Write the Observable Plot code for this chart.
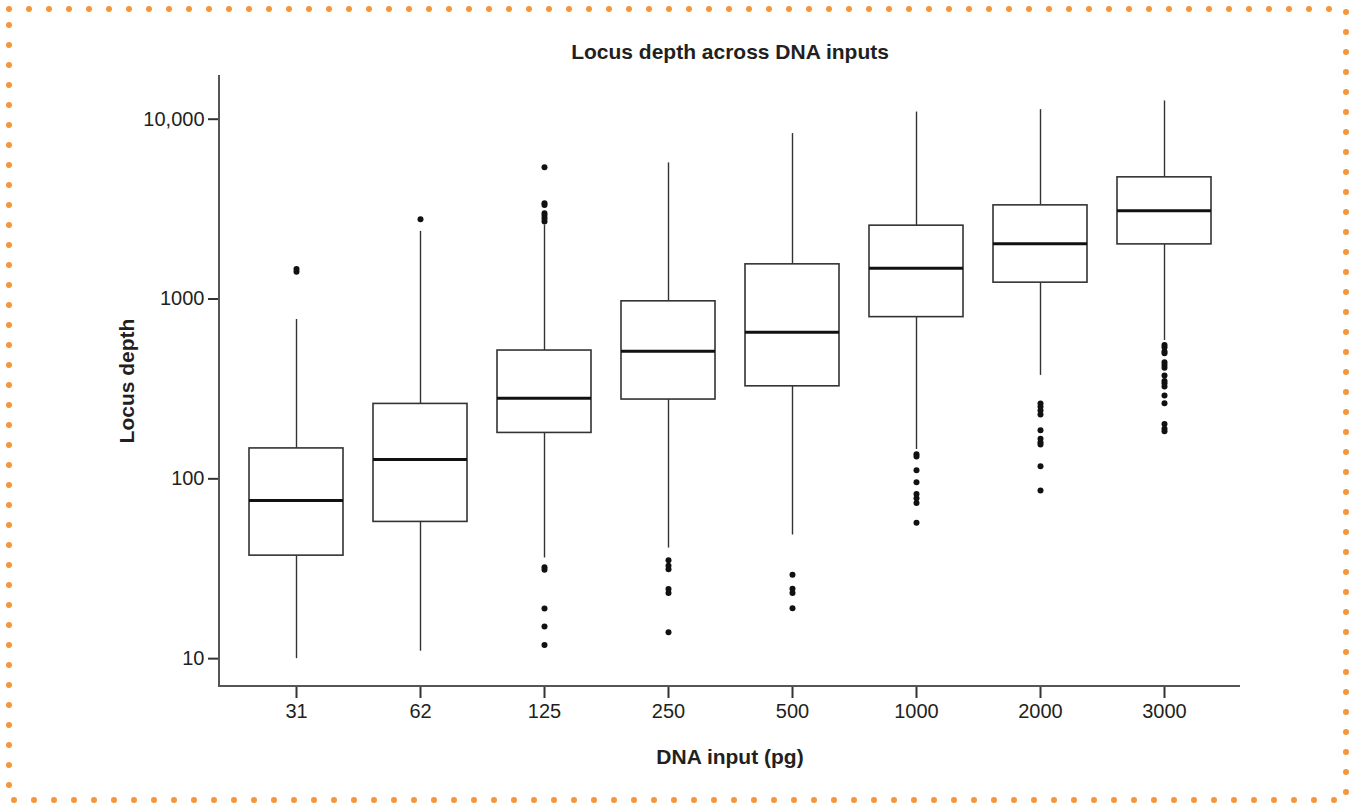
<!DOCTYPE html>
<html><head><meta charset="utf-8">
<script src="https://cdn.jsdelivr.net/npm/d3@7"></script>
<script src="https://cdn.jsdelivr.net/npm/@observablehq/plot@0.6"></script>
<style>
body{margin:0;background:#fff;}
#wrap{position:relative;width:1355px;height:803px;overflow:hidden;}
#wrap svg{position:absolute;left:0;top:0;}
</style></head><body><div id="wrap"></div>
<script>
// ---- data ----
const inputs = ["31","62","125","250","500","1000","2000","3000"];
const whiskerLow  = [10, 11.0, 36.3, 41.2, 48.7, 145.6, 376, 588];
const q1          = [37.4, 57.6, 180, 276, 327, 793, 1233, 2013];
const median      = [75.7, 128, 281, 513, 654, 1484, 2031, 3100];
const q3          = [147.6, 261, 517, 971, 1559, 2558, 3318, 4750];
const whiskerHigh = [769, 2377, 2577, 5715, 8320, 10960, 11300, 12630];
const out31   = [1420, 1470];
const out62   = [2773];
const out125  = [5410, 3404, 3330, 3000, 2900, 2800, 2700, 32.2, 31.2, 19.0, 15.1, 11.9];
const out250  = [35.2, 32.9, 31.4, 24.4, 23.2, 14.0];
const out500  = [29.3, 24.5, 23.2, 19.05];
const out1000 = [137, 133, 111.7, 95.7, 82.4, 78, 73.4, 56.9];
const out2000 = [262, 252, 240, 228, 186, 167, 160, 155, 117.5, 86.1];
const out3000 = [555, 540, 510, 500, 445, 430, 415, 376, 350, 340, 326, 291, 263, 202, 190, 184];
const yTicks = [10, 100, 1000, 10000];
const yTickLabels = ["10", "100", "1000", "10,000"];
const title = "Locus depth across DNA inputs";
const xLabel = "DNA input (pg)";
const yLabel = "Locus depth";

// ---- tables ----
const stats = inputs.map((k, i) => ({input: k, lo: whiskerLow[i], q1: q1[i], med: median[i], q3: q3[i], hi: whiskerHigh[i]}));
const outLists = [out31, out62, out125, out250, out500, out1000, out2000, out3000];
const pts = outLists.flatMap((arr, i) => arr.map(v => ({input: inputs[i], value: v})));

const W = 1355, H = 803, mL = 219, mR = 115, mT = 75, mB = 117;
const font = "'Liberation Sans', Arial, Helvetica, sans-serif";
const tf = d => yTickLabels[yTicks.indexOf(d)];

const chart = Plot.plot({
  width: W, height: H,
  marginLeft: mL, marginRight: mR, marginTop: mT, marginBottom: mB,
  style: {fontFamily: font, fontSize: "20px", color: "#231f20", background: "transparent"},
  x: {type: "band", domain: inputs, paddingInner: 0.244, paddingOuter: 0.229, label: null},
  y: {type: "log", domain: [7, 17500], label: null},
  marks: [
    Plot.ruleX(stats, {x: "input", y1: "lo", y2: "q1", stroke: "#333", strokeWidth: 1.4}),
    Plot.ruleX(stats, {x: "input", y1: "q3", y2: "hi", stroke: "#333", strokeWidth: 1.4}),
    Plot.barY(stats, {x: "input", y1: "q1", y2: "q3", fill: "white", stroke: "#333", strokeWidth: 1.6}),
    Plot.tickY(stats, {x: "input", y: "med", stroke: "#111", strokeWidth: 3}),
    Plot.dot(pts, {x: "input", y: "value", r: 3, fill: "#111", stroke: "none"}),
    Plot.axisX({tickSize: 12, tickPadding: 5, strokeWidth: 2, stroke: "#333", fontSize: 20, label: null}),
    Plot.axisY({ticks: yTicks, tickFormat: tf, tickSize: 11, tickPadding: 4, strokeWidth: 2, stroke: "#333", fontSize: 20, label: null}),
    Plot.text([title], {text: d => d, frameAnchor: "top", dy: -23, lineAnchor: "middle", textAnchor: "middle", fontWeight: "bold", fontSize: 21, fill: "#231f20"}),
    Plot.text([xLabel], {text: d => d, frameAnchor: "bottom", dy: 71, lineAnchor: "middle", textAnchor: "middle", fontWeight: "bold", fontSize: 21, fill: "#231f20"}),
    Plot.text([yLabel], {text: d => d, frameAnchor: "left", dx: -92, rotate: -90, lineAnchor: "middle", textAnchor: "middle", fontWeight: "bold", fontSize: 21, fill: "#231f20"})
  ]
});

// axis lines
const svg = d3.select(chart);
svg.append("line").attr("x1", mL).attr("x2", mL).attr("y1", mT).attr("y2", H - mB)
  .attr("stroke", "#555").attr("stroke-width", 2);
svg.append("line").attr("x1", mL - 1).attr("x2", W - mR).attr("y1", H - mB).attr("y2", H - mB)
  .attr("stroke", "#555").attr("stroke-width", 2);

const wrap = document.getElementById("wrap");
wrap.appendChild(chart);

// dotted orange frame
const border = d3.create("svg").attr("width", W).attr("height", H);
border.append("rect").attr("x", 9).attr("y", 9).attr("width", W - 18).attr("height", H - 12)
  .attr("fill", "none").attr("stroke", "#f5963a").attr("stroke-width", 6)
  .attr("stroke-dasharray", "0 20").attr("stroke-linecap", "round");
wrap.appendChild(border.node());
</script>
</body></html>
